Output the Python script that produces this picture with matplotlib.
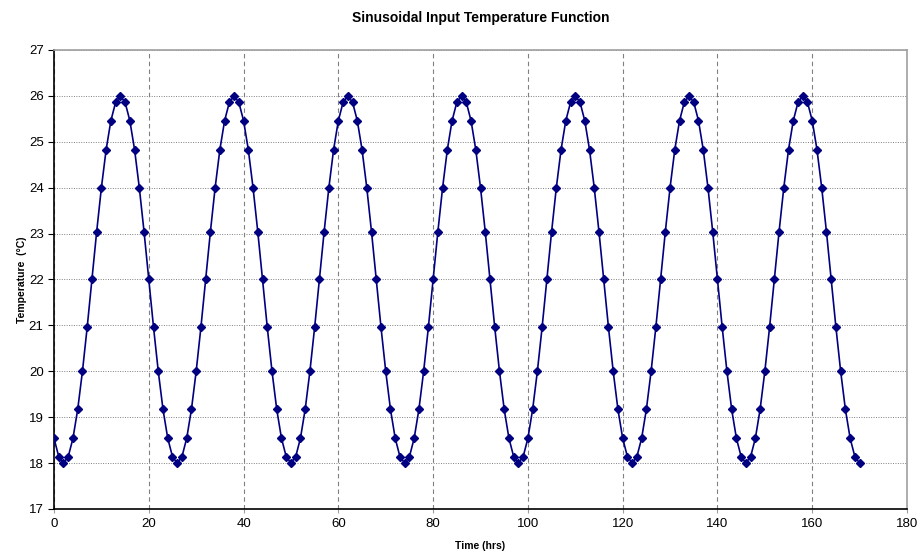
import matplotlib
matplotlib.use("Agg")
import matplotlib.pyplot as plt

plt.rcParams['font.family'] = ['Liberation Sans', 'DejaVu Sans']

# hourly temperatures, one row per day
temp = [
    18.54, 18.14, 18.00, 18.14, 18.54, 19.17, 20.00, 20.96, 22.00, 23.04, 24.00, 24.83,
    25.46, 25.86, 26.00, 25.86, 25.46, 24.83, 24.00, 23.04, 22.00, 20.96, 20.00, 19.17,
    18.54, 18.14, 18.00, 18.14, 18.54, 19.17, 20.00, 20.96, 22.00, 23.04, 24.00, 24.83,
    25.46, 25.86, 26.00, 25.86, 25.46, 24.83, 24.00, 23.04, 22.00, 20.96, 20.00, 19.17,
    18.54, 18.14, 18.00, 18.14, 18.54, 19.17, 20.00, 20.96, 22.00, 23.04, 24.00, 24.83,
    25.46, 25.86, 26.00, 25.86, 25.46, 24.83, 24.00, 23.04, 22.00, 20.96, 20.00, 19.17,
    18.54, 18.14, 18.00, 18.14, 18.54, 19.17, 20.00, 20.96, 22.00, 23.04, 24.00, 24.83,
    25.46, 25.86, 26.00, 25.86, 25.46, 24.83, 24.00, 23.04, 22.00, 20.96, 20.00, 19.17,
    18.54, 18.14, 18.00, 18.14, 18.54, 19.17, 20.00, 20.96, 22.00, 23.04, 24.00, 24.83,
    25.46, 25.86, 26.00, 25.86, 25.46, 24.83, 24.00, 23.04, 22.00, 20.96, 20.00, 19.17,
    18.54, 18.14, 18.00, 18.14, 18.54, 19.17, 20.00, 20.96, 22.00, 23.04, 24.00, 24.83,
    25.46, 25.86, 26.00, 25.86, 25.46, 24.83, 24.00, 23.04, 22.00, 20.96, 20.00, 19.17,
    18.54, 18.14, 18.00, 18.14, 18.54, 19.17, 20.00, 20.96, 22.00, 23.04, 24.00, 24.83,
    25.46, 25.86, 26.00, 25.86, 25.46, 24.83, 24.00, 23.04, 22.00, 20.96, 20.00, 19.17,
    18.54, 18.14, 18.00,
]
hours = list(range(len(temp)))

xticks = [0, 20, 40, 60, 80, 100, 120, 140, 160, 180]
yticks = [17, 18, 19, 20, 21, 22, 23, 24, 25, 26, 27]

fig = plt.figure(figsize=(9.17, 5.53), dpi=100)
ax = fig.add_axes([0.0589, 0.0796, 0.9302, 0.830])

ax.plot(hours, temp, color='#000080', lw=1.2, marker='D', ms=4, zorder=3)

ax.set_xlim(0, 180)
ax.set_ylim(17, 27)
ax.set_xticks(xticks)
ax.set_yticks(yticks)

ax.grid(axis='x', color='#808080', ls=(0, (4, 3)), lw=0.8)
ax.grid(axis='y', color='#808080', ls=(0, (1, 1.5)), lw=0.7)

for s in ['top', 'right']:
    ax.spines[s].set_color('#a0a0a0')
    ax.spines[s].set_linewidth(1.2)
for s in ['left', 'bottom']:
    ax.spines[s].set_color('black')
    ax.spines[s].set_linewidth(1.2)

ax.tick_params(axis='both', labelsize=9.5, length=4, color='black', direction='out')
ax.tick_params(axis='x', color='#a0a0a0', length=3)

ax.set_title('Sinusoidal Input Temperature Function', fontsize=10, fontweight='bold', pad=20)
ax.set_xlabel('Time (hrs)', fontsize=7.5, fontweight='bold', labelpad=8)
ax.set_ylabel('Temperature  (°C)', fontsize=7.5, fontweight='bold', labelpad=1)

fig.savefig('out.png', dpi=100)
